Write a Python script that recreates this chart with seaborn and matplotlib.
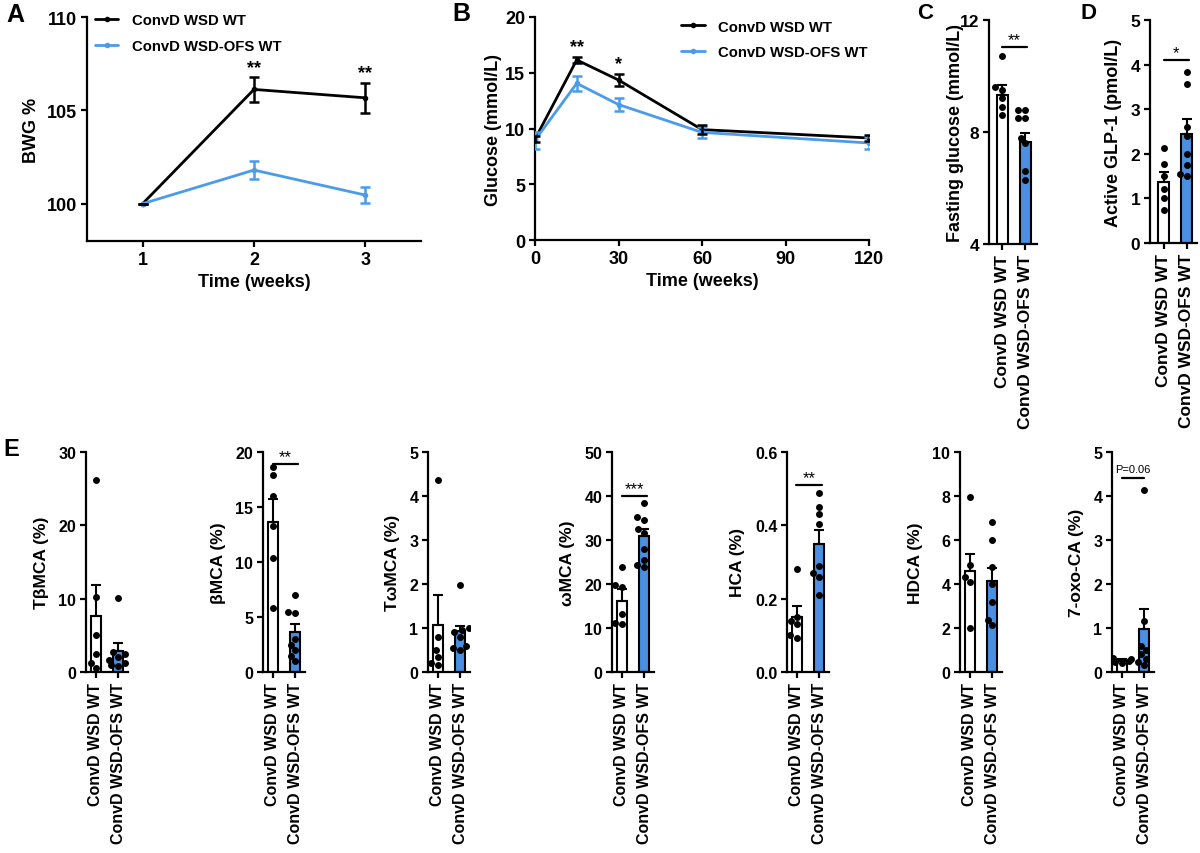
import warnings
warnings.filterwarnings("ignore")
import numpy as np
import pandas as pd
import matplotlib
matplotlib.use("Agg")
import matplotlib.pyplot as plt
from matplotlib.ticker import FormatStrFormatter
import seaborn as sns

sns.set_theme(style="ticks")
plt.rcParams["font.family"] = ["Liberation Sans", "DejaVu Sans"]
plt.rcParams["font.weight"] = "bold"
plt.rcParams["axes.labelweight"] = "bold"
plt.rcParams["axes.linewidth"] = 1.6
plt.rcParams["xtick.major.width"] = 1.6
plt.rcParams["ytick.major.width"] = 1.6
plt.rcParams["xtick.major.size"] = 4
plt.rcParams["ytick.major.size"] = 4
plt.rcParams["xtick.color"] = "black"
plt.rcParams["ytick.color"] = "black"
plt.rcParams["axes.edgecolor"] = "black"
plt.rcParams["text.color"] = "black"
plt.rcParams["axes.labelcolor"] = "black"

# ---------------- data ----------------
groups = ["ConvD WSD WT", "ConvD WSD-OFS WT"]

# Panel A: body weight gain
a_weeks = [1, 2, 3]
a_wsd_mean = [100.0, 106.12, 105.67]
a_wsd_sem = [0.0, 0.65, 0.82]
a_ofs_mean = [100.0, 101.8, 100.46]
a_ofs_sem = [0.0, 0.47, 0.45]

# Panel B: glucose tolerance
b_time = [0, 15, 30, 60, 120]
b_wsd_mean = [9.05, 16.15, 14.35, 9.9, 9.15]
b_wsd_sem = [0.3, 0.25, 0.55, 0.42, 0.27]
b_ofs_mean = [8.95, 14.05, 12.15, 9.65, 8.7]
b_ofs_sem = [0.75, 0.7, 0.62, 0.48, 0.55]

# Panel C: fasting glucose
fast_mean = [9.33, 7.65]
fast_sem = [0.34, 0.33]
fast_wsd = [10.7, 9.6, 9.5, 9.2, 8.9, 8.6]
fast_ofs = [8.8, 8.8, 8.5, 8.5, 7.8, 7.6, 6.6, 6.3]

# Panel D: active GLP-1
glp_mean = [1.37, 2.45]
glp_sem = [0.23, 0.32]
glp_wsd = [2.13, 1.77, 1.5, 1.2, 1.0, 0.73]
glp_ofs = [3.83, 3.57, 2.6, 2.4, 2.0, 1.75, 1.55, 1.5]

# Panel E: bile acids
tbmca_mean = [7.7, 2.9]
tbmca_sem = [4.1, 1.1]
tbmca_wsd = [26.2, 10.2, 5.0, 2.5, 1.2, 0.5]
tbmca_ofs = [10.1, 2.7, 2.4, 2.0, 1.6, 1.2, 1.0, 0.8]

bmca_mean = [13.65, 3.6]
bmca_sem = [2.05, 0.75]
bmca_wsd = [18.6, 17.9, 16.0, 13.3, 10.4, 5.8]
bmca_ofs = [7.0, 5.5, 5.4, 3.0, 2.5, 2.0, 1.5, 1.0]

twmca_mean = [1.07, 0.93]
twmca_sem = [0.68, 0.12]
twmca_wsd = [4.37, 0.8, 0.5, 0.35, 0.2, 0.15]
twmca_ofs = [1.97, 1.0, 0.95, 0.9, 0.8, 0.6, 0.55, 0.5]

wmca_mean = [16.2, 30.9]
wmca_sem = [2.7, 1.55]
wmca_wsd = [23.8, 19.8, 19.3, 13.2, 11.2, 10.8]
wmca_ofs = [38.5, 35.2, 34.6, 32.4, 31.5, 28.0, 25.5, 24.3, 23.8]

hca_mean = [0.151, 0.349]
hca_sem = [0.029, 0.037]
hca_wsd = [0.281, 0.15, 0.14, 0.13, 0.10, 0.092]
hca_ofs = [0.487, 0.449, 0.43, 0.404, 0.29, 0.27, 0.26, 0.21]

hdca_mean = [4.58, 4.15]
hdca_sem = [0.8, 0.57]
hdca_wsd = [7.94, 4.85, 4.32, 4.1, 2.0]
hdca_ofs = [6.82, 5.98, 4.77, 4.0, 3.18, 2.38, 2.12]

oxo_mean = [0.25, 0.98]
oxo_sem = [0.04, 0.46]
oxo_wsd = [0.32, 0.30, 0.28, 0.25, 0.22, 0.20]
oxo_ofs = [4.13, 1.15, 0.6, 0.5, 0.4, 0.3, 0.23, 0.15]

BLUE_LINE = "#4a9bea"
BLUE_BAR = "#4a8fe2"

W, H = 1200, 854
fig = plt.figure(figsize=(12, 8.54), dpi=100)


def add_ax(left, top, right, bottom):
    return fig.add_axes([left / W, 1 - bottom / H, (right - left) / W, (bottom - top) / H])


def style(ax, tick_size):
    sns.despine(ax=ax)
    ax.tick_params(axis="both", labelsize=tick_size, direction="out", pad=3)
    for lab in ax.get_xticklabels() + ax.get_yticklabels():
        lab.set_fontweight("bold")


def line_panel(ax, x, m1, s1, m2, s2, legend_anchor):
    df = pd.DataFrame({
        "x": list(x) * 2,
        "y": list(m1) + list(m2),
        "group": [groups[0]] * len(x) + [groups[1]] * len(x),
    })
    sns.lineplot(data=df, x="x", y="y", hue="group", hue_order=groups,
                 palette=["black", BLUE_LINE], marker="o", markersize=4,
                 markeredgewidth=0, linewidth=2, ax=ax)
    ax.errorbar(x, m2, yerr=s2, fmt="none", ecolor=BLUE_LINE, elinewidth=1.8,
                capsize=3.5, capthick=1.8, zorder=3)
    ax.errorbar(x, m1, yerr=s1, fmt="none", ecolor="black", elinewidth=1.8,
                capsize=3.5, capthick=1.8, zorder=4)
    h, l = ax.get_legend_handles_labels()
    ax.legend(h, l, loc="upper left", bbox_to_anchor=legend_anchor, frameon=False,
              handlelength=1.6, handletextpad=0.9,
              labelspacing=0.8, borderaxespad=0,
              prop={"weight": "bold", "size": 10.7})


def bar_panel(ax, means, sems, p_wsd, p_ofs, xlim, xlab_size=12):
    dfb = pd.DataFrame({"group": groups, "value": means})
    sns.barplot(data=dfb, x="group", y="value", hue="group", order=groups,
                hue_order=groups, palette=["white", BLUE_BAR], saturation=1,
                edgecolor="black", linewidth=1.5, width=0.48, legend=False,
                errorbar=None, ax=ax, zorder=2)
    ax.errorbar([0, 1], means, yerr=[[0, 0], sems], fmt="none", ecolor="black",
                elinewidth=1.5, capsize=3.5, capthick=1.5, zorder=3)
    dfp = pd.DataFrame({
        "group": [groups[0]] * len(p_wsd) + [groups[1]] * len(p_ofs),
        "value": list(p_wsd) + list(p_ofs),
    })
    sns.swarmplot(data=dfp, x="group", y="value", order=groups, color="black",
                  size=5, ax=ax, zorder=5)
    ax.set_xlim(*xlim)
    ax.set_xlabel("")
    ax.tick_params(axis="x", labelrotation=90)
    for lab in ax.get_xticklabels():
        lab.set_fontweight("bold")
        lab.set_fontsize(xlab_size)


def sig(ax, x0, x1, y, text, size=12, weight="normal", gap=0.0):
    ax.plot([x0, x1], [y, y], color="black", lw=1.6, clip_on=False, zorder=6)
    ax.text((x0 + x1) / 2, y + gap, text, ha="center", va="bottom",
            fontsize=size, fontweight=weight, clip_on=False)


# ---------------- Panel A ----------------
axA = add_ax(87, 18, 421, 242)
line_panel(axA, a_weeks, a_wsd_mean, a_wsd_sem, a_ofs_mean, a_ofs_sem, (0.005, 1.045))
axA.set_xlim(0.5, 3.5)
axA.set_ylim(98, 110)
axA.set_xticks([1, 2, 3])
axA.set_yticks([100, 105, 110])
axA.set_xlabel("Time (weeks)", fontsize=13, labelpad=4)
axA.set_ylabel("BWG %", fontsize=13, labelpad=5)
style(axA, 13)
axA.text(2, 106.77 + 0.05, "**", ha="center", va="bottom", fontsize=13)
axA.text(3, 106.49 + 0.05, "**", ha="center", va="bottom", fontsize=13)

# ---------------- Panel B ----------------
axB = add_ax(535, 18, 869, 241)
line_panel(axB, b_time, b_wsd_mean, b_wsd_sem, b_ofs_mean, b_ofs_sem, (0.42, 1.015))
axB.set_xlim(0, 120)
axB.set_ylim(0, 20)
axB.set_xticks([0, 30, 60, 90, 120])
axB.set_yticks([0, 5, 10, 15, 20])
axB.set_xlabel("Time (weeks)", fontsize=13, labelpad=4)
axB.set_ylabel("Glucose (mmol/L)", fontsize=13, labelpad=2)
style(axB, 13)
axB.text(15, 16.4 + 0.15, "**", ha="center", va="bottom", fontsize=13)
axB.text(30, 14.9 + 0.15, "*", ha="center", va="bottom", fontsize=13)

# ---------------- Panel C ----------------
axC = add_ax(989, 21, 1037, 245)
bar_panel(axC, fast_mean, fast_sem, fast_wsd, fast_ofs, (-0.57, 1.52))
axC.set_ylim(4, 12)
axC.set_yticks([4, 8, 12])
axC.set_ylabel("Fasting glucose (mmol/L)", fontsize=13, labelpad=-3)
style(axC, 12.5)
sig(axC, 0, 1.1, 11.04, "**", size=12)

# ---------------- Panel D ----------------
axD = add_ax(1150, 21, 1197, 244)
bar_panel(axD, glp_mean, glp_sem, glp_wsd, glp_ofs, (-0.6, 1.45))
axD.set_ylim(0, 5)
axD.set_yticks([0, 1, 2, 3, 4, 5])
axD.set_ylabel("Active GLP-1 (pmol/L)", fontsize=13, labelpad=6)
style(axD, 12.5)
sig(axD, 0, 1.1, 4.1, "*", size=12)

# ---------------- Panel E ----------------
e_panels = [
    (86, tbmca_mean, tbmca_sem, tbmca_wsd, tbmca_ofs, (0, 30), [0, 10, 20, 30], "T\u03b2MCA (%)"),
    (263, bmca_mean, bmca_sem, bmca_wsd, bmca_ofs, (0, 20), [0, 5, 10, 15, 20], "\u03b2MCA (%)"),
    (428, twmca_mean, twmca_sem, twmca_wsd, twmca_ofs, (0, 5), [0, 1, 2, 3, 4, 5], "T\u03c9MCA (%)"),
    (612, wmca_mean, wmca_sem, wmca_wsd, wmca_ofs, (0, 50), [0, 10, 20, 30, 40, 50], "\u03c9MCA (%)"),
    (787, hca_mean, hca_sem, hca_wsd, hca_ofs, (0, 0.6), [0.0, 0.2, 0.4, 0.6], "HCA (%)"),
    (960, hdca_mean, hdca_sem, hdca_wsd, hdca_ofs, (0, 10), [0, 2, 4, 6, 8, 10], "HDCA (%)"),
    (1112, oxo_mean, oxo_sem, oxo_wsd, oxo_ofs, (0, 5), [0, 1, 2, 3, 4, 5], "7-oxo-CA (%)"),
]
e_axes = []
for left, m, s, pw, po, yl, yt, lab in e_panels:
    ax = add_ax(left, 453, left + 42, 673)
    bar_panel(ax, m, s, pw, po, (-0.45, 1.45), xlab_size=13)
    ax.set_ylim(*yl)
    ax.set_yticks(yt)
    ax.set_ylabel(lab, fontsize=12.5, labelpad=7)
    style(ax, 11.5)
    e_axes.append(ax)
e_axes[4].yaxis.set_major_formatter(FormatStrFormatter("%.1f"))
for lab in e_axes[4].get_yticklabels():
    lab.set_fontweight("bold")

sig(e_axes[1], 0, 1.15, 18.9, "**", size=12)
sig(e_axes[3], 0, 1.15, 40.0, "***", size=12)
sig(e_axes[4], -0.05, 1.15, 0.51, "**", size=12)
sig(e_axes[6], 0, 1.0, 4.4, "P=0.06", size=8, gap=0.1)

# ---------------- panel letters ----------------
for letter, x, y, fs in [("A", 6, 3, 18), ("B", 452, 2, 18), ("C", 917, 3, 16),
                         ("D", 1080, 3, 16), ("E", 3, 438, 17)]:
    fig.text(x / W, 1 - y / H, letter, fontsize=fs, fontweight="bold", va="top", ha="left")

fig.savefig("out.png", dpi=100)
